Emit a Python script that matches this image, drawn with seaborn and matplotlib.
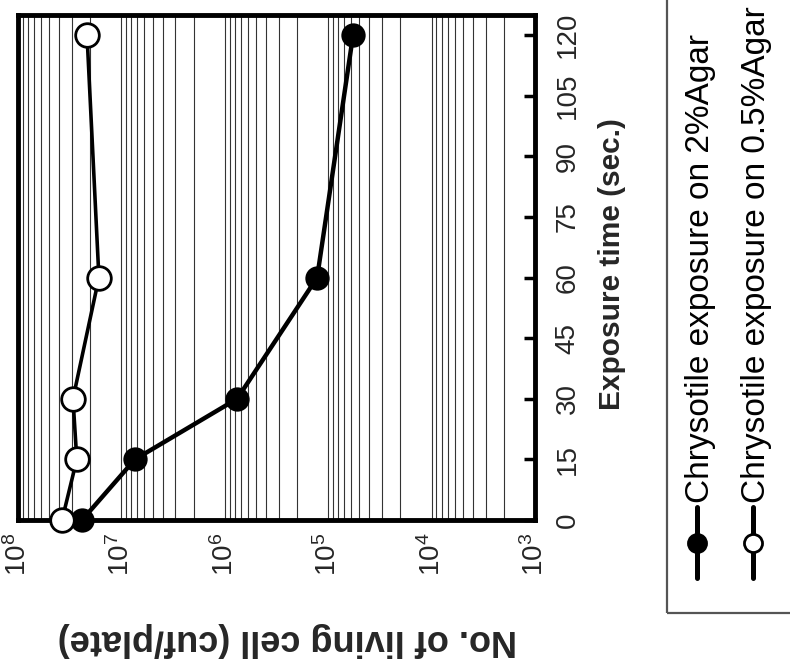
import numpy as np
import pandas as pd
import matplotlib
matplotlib.use("Agg")
import matplotlib.pyplot as plt
import seaborn as sns
from matplotlib.lines import Line2D
from matplotlib.patches import Rectangle
from matplotlib.ticker import FixedLocator, LogLocator, NullFormatter

# ---------------- data ----------------
time_sec = [0, 15, 30, 60, 120]
cells_2pct_agar = [2.4e7, 7.4e6, 7.6e5, 1.28e5, 5.75e4]
cells_05pct_agar = [3.75e7, 2.7e7, 2.94e7, 1.65e7, 2.15e7]
series_labels = ["Chrysotile exposure on 2%Agar", "Chrysotile exposure on 0.5%Agar"]
time_ticks = [0, 15, 30, 45, 60, 75, 90, 105, 120]
decade_ticks = [1e8, 1e7, 1e6, 1e5, 1e4, 1e3]
decade_labels = [r"$\mathregular{10^{8}}$", r"$\mathregular{10^{7}}$", r"$\mathregular{10^{6}}$",
                 r"$\mathregular{10^{5}}$", r"$\mathregular{10^{4}}$", r"$\mathregular{10^{3}}$"]
xlabel_text = "No. of living cell (cuf/plate)"
ylabel_text = "Exposure time (sec.)"

# ---------------- style ----------------
sns.set_theme(style="white")
plt.rcParams["font.family"] = ["Liberation Sans", "DejaVu Sans"]
plt.rcParams["mathtext.fontset"] = "custom"
plt.rcParams["mathtext.rm"] = "Liberation Sans"
plt.rcParams["mathtext.it"] = "Liberation Sans:italic"
plt.rcParams["mathtext.bf"] = "Liberation Sans:bold"

W, H = 790, 667
fig = plt.figure(figsize=(W / 100, H / 100), dpi=100)
fig.patch.set_facecolor("white")

ax_l, ax_r, ax_t, ax_b = 18, 535, 15, 520
ax = fig.add_axes([ax_l / W, 1 - ax_b / H, (ax_r - ax_l) / W, (ax_b - ax_t) / H])
ax.set_xscale("log")

df = pd.DataFrame({
    "time": time_sec * 2,
    "cells": cells_2pct_agar + cells_05pct_agar,
    "series": [series_labels[0]] * len(time_sec) + [series_labels[1]] * len(time_sec),
})

d1 = df[df["series"] == series_labels[0]]
d2 = df[df["series"] == series_labels[1]]
sns.lineplot(data=d1, x="cells", y="time", orient="y", estimator=None, ax=ax,
             color="black", lw=3.2, marker="o", markersize=16,
             markerfacecolor="black", markeredgecolor="black", markeredgewidth=1.5,
             clip_on=False, zorder=3)
sns.lineplot(data=d2, x="cells", y="time", orient="y", estimator=None, ax=ax,
             color="black", lw=2.6, marker="o", markersize=17,
             markerfacecolor="white", markeredgecolor="black", markeredgewidth=2.0,
             clip_on=False, zorder=4)

ax.set_xlim(1e8, 1e3)
ax.set_ylim(0, 125)

ax.xaxis.set_major_locator(FixedLocator(decade_ticks))
ax.set_xticklabels(decade_labels)
ax.xaxis.set_minor_locator(LogLocator(base=10, subs=np.arange(2, 10)))
ax.xaxis.set_minor_formatter(NullFormatter())
ax.grid(True, which="both", axis="x", color="#333333", lw=0.8)
ax.grid(False, axis="y")
ax.tick_params(axis="x", which="both", length=0, labelsize=20, pad=9, labelrotation=90)

ax.yaxis.tick_right()
ax.set_yticks(time_ticks)
ax.set_yticklabels([str(t) for t in time_ticks])
ax.tick_params(axis="y", which="major", direction="in", length=8, width=2.5, color="black",
               right=True, left=False, labelright=True, labelleft=False,
               labelsize=20, pad=14, labelrotation=90)
for lbl in ax.get_yticklabels():
    lbl.set_va("center")
    lbl.set_ha("left")

for s in ax.spines.values():
    s.set_visible(True)
    s.set_color("black")
    s.set_linewidth(3.5)

ax.set_xlabel(xlabel_text, rotation=180, fontsize=26, fontweight="bold", va="center", ha="center")
ax.xaxis.set_label_coords((287 - ax_l) / (ax_r - ax_l), (ax_b - 640) / (ax_b - ax_t))
ax.yaxis.set_label_position("right")
ax.set_ylabel(ylabel_text, rotation=90, fontsize=21.5, fontweight="bold", va="center", ha="center")
ax.yaxis.set_label_coords((612 - ax_l) / (ax_r - ax_l), (ax_b - 264) / (ax_b - ax_t))

# ---------------- legend (rotated, drawn manually) ----------------
fig.add_artist(Rectangle((667 / W, 1 - 613 / H), 1.0, 1.0, transform=fig.transFigure,
                         fill=False, ec="#555555", lw=1.6))
for xpx, face, lab in [(697, "black", series_labels[0]), (753, "white", series_labels[1])]:
    fig.add_artist(Line2D([xpx / W, xpx / W], [1 - 507 / H, 1 - 578 / H],
                          transform=fig.transFigure, color="black", lw=3.6))
    fig.add_artist(Line2D([xpx / W], [1 - 543 / H], transform=fig.transFigure,
                          marker="o", ms=13, mfc=face, mec="black", mew=2, lw=0))
    fig.text((xpx + 3) / W, 1 - 503 / H, lab, rotation=90,
             ha="center", va="bottom", fontsize=24, color="black")

fig.savefig("out.png", dpi=100, facecolor="white")
